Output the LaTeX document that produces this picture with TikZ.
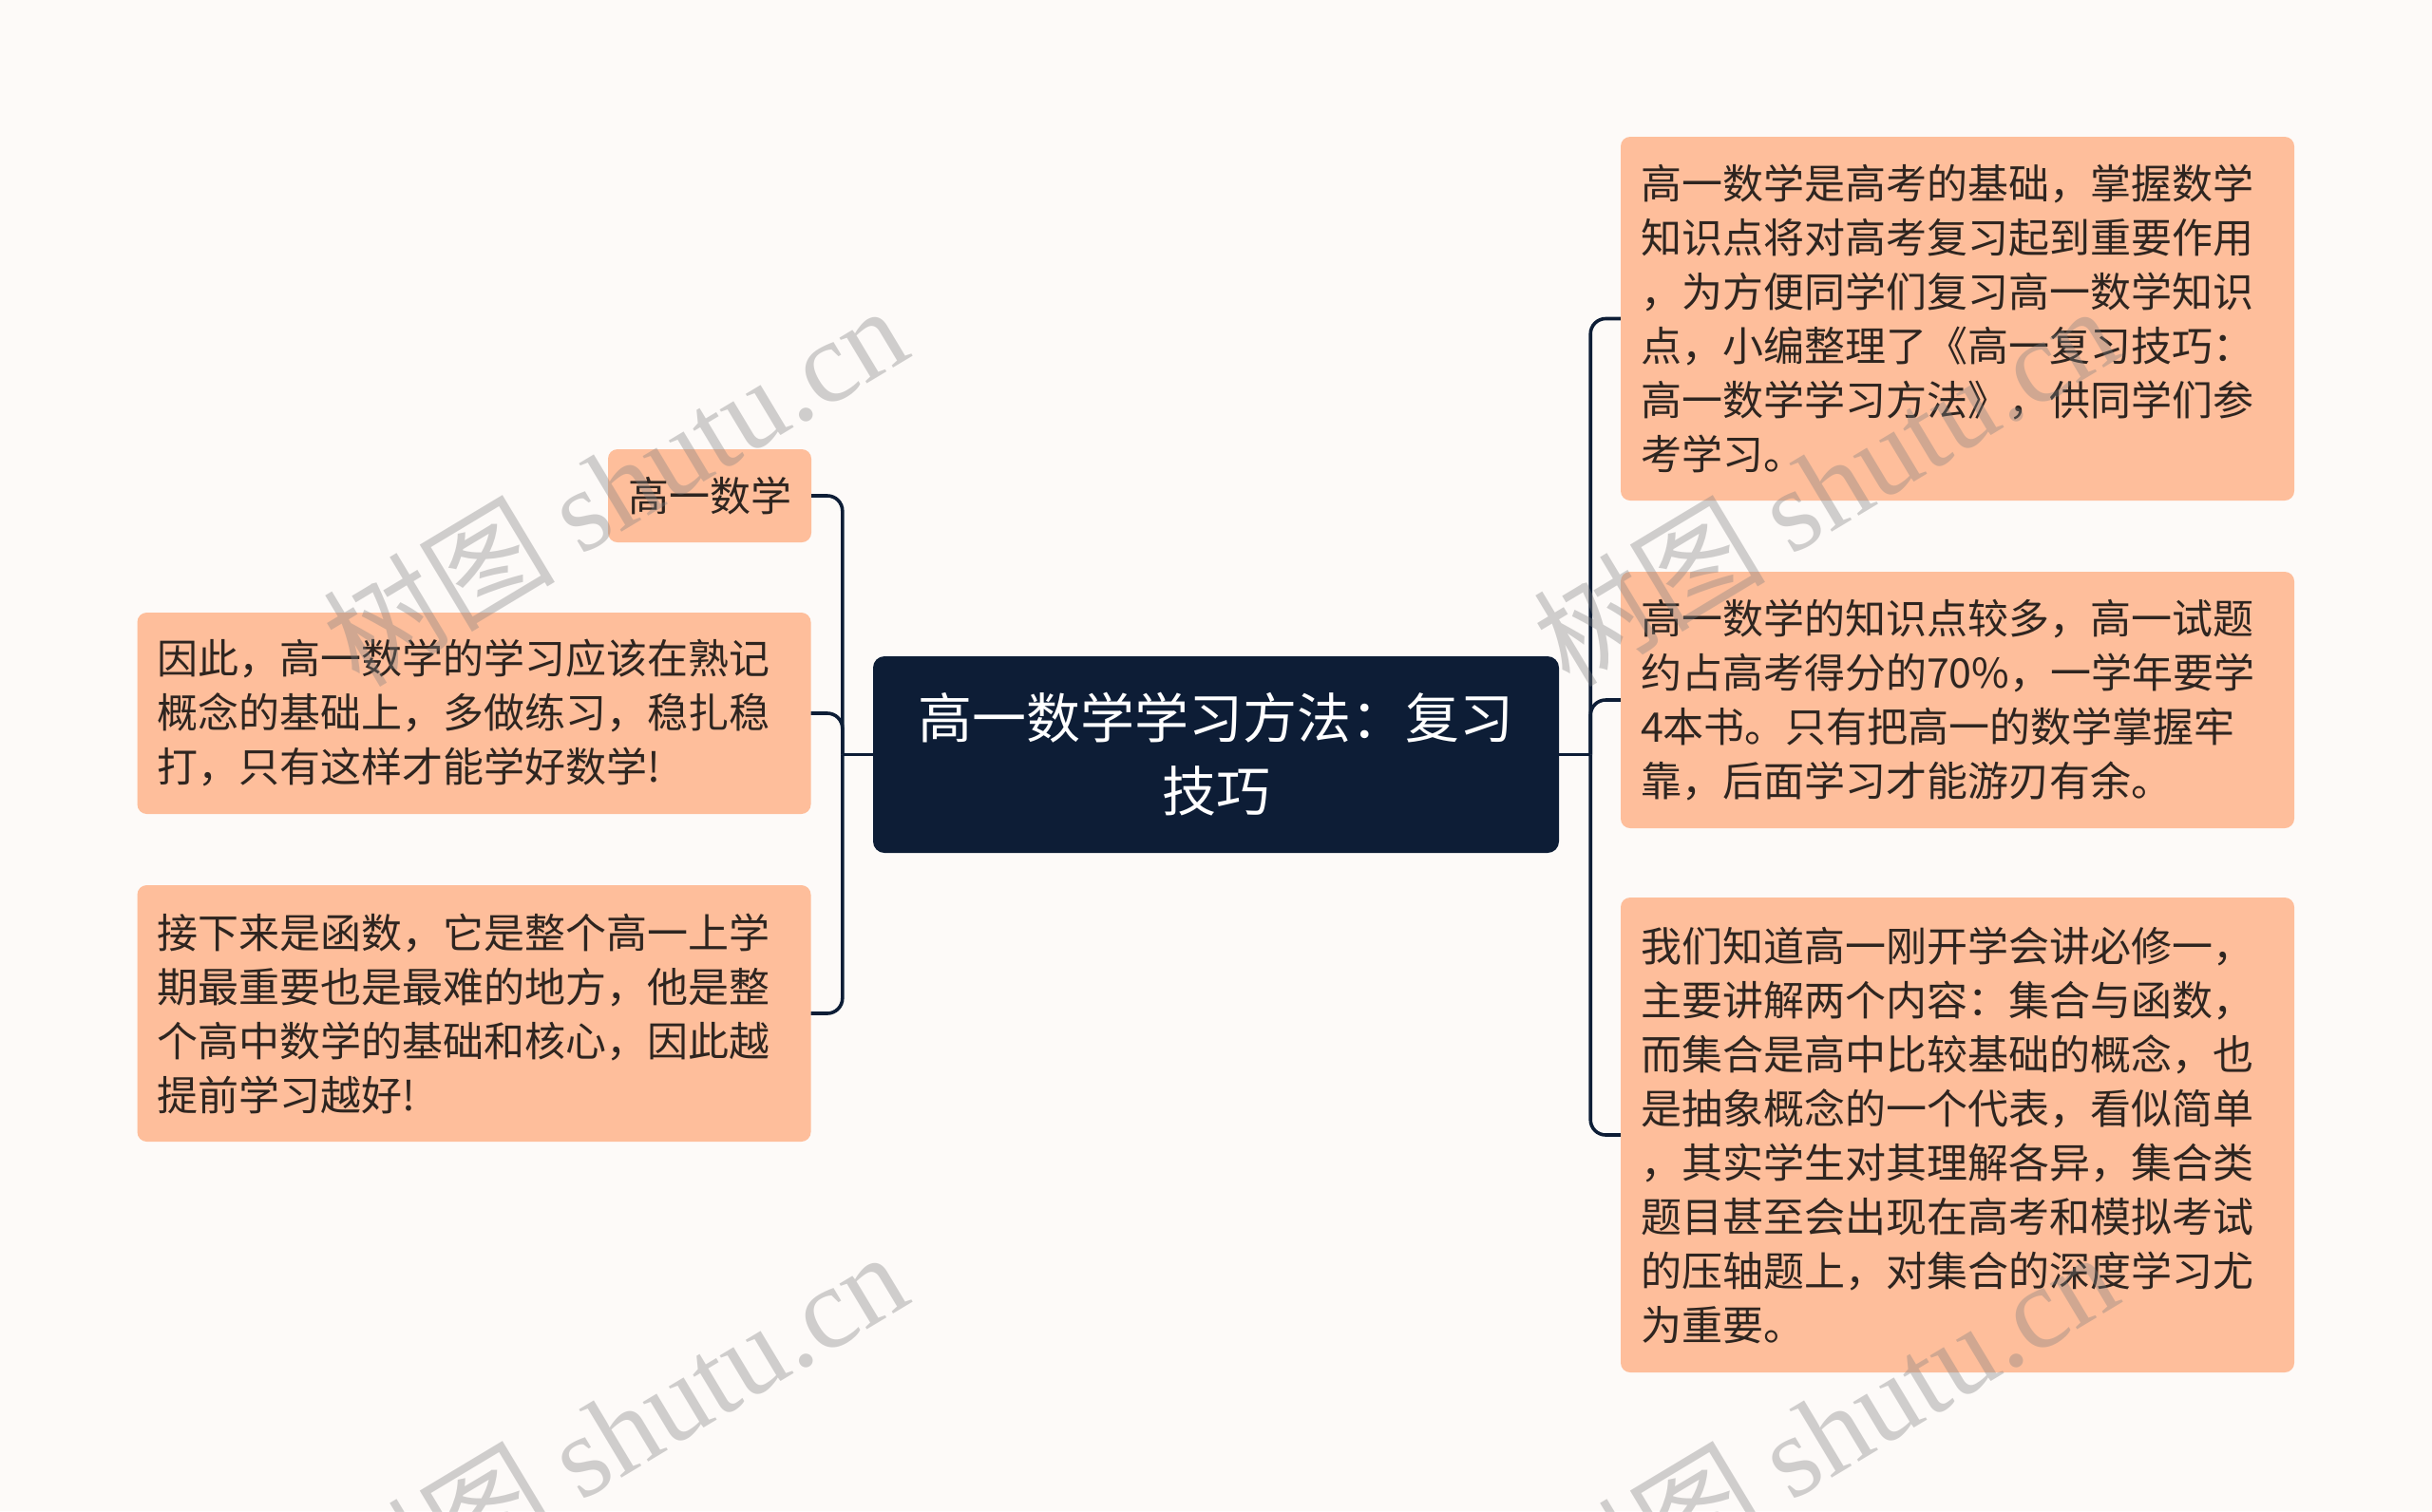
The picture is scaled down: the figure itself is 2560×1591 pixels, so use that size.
\documentclass[tikz,border=0pt]{standalone}
\usepackage{fontspec}
\setmainfont{Noto Sans CJK SC}
\newfontfamily\wmlatin{Liberation Serif}
\newfontfamily\wmcjk{Noto Sans CJK SC}
\definecolor{bgc}{HTML}{FDFAF8}
\definecolor{peach}{HTML}{FEBE9B}
\definecolor{navy}{HTML}{0D1D36}
\definecolor{txt}{HTML}{2E2520}
\definecolor{wmc}{HTML}{808080}
\begin{document}
\begin{tikzpicture}[x=1pt,y=-1pt,
  leaf/.style={fill=peach, rounded corners=10pt, text=txt,
    font=\fontsize{43}{57}\selectfont, align=left,
    inner xsep=21pt, inner ysep=0pt, anchor=center},
  wide/.style={text width=667pt},
  root/.style={fill=navy, rounded corners=12pt, text=white,
    font=\fontsize{57}{77}\selectfont, align=center,
    minimum width=722pt, minimum height=207pt, inner sep=0pt},
  conn/.style={draw=navy, line width=3.6pt},
  wm/.style={text=wmc, opacity=0.36, inner sep=0pt,
    font=\fontsize{122}{122}\selectfont, rotate=31}
]
\fill[bgc] (0,0) rectangle (2560,1591);
\useasboundingbox (0,0) rectangle (2560,1591);

\node[root] (c) at (1280,794.5) {高一数学学习方法：复习\\技巧};

\node[leaf, minimum height=98pt] (L1) at (747,522) {高一数学};
\node[leaf, wide, minimum height=212pt] (L2) at (499,751)
  {因此，高一数学的学习应该在熟记\\概念的基础上，多做练习，稳扎稳\\打，只有这样才能学好数学!};
\node[leaf, wide, minimum height=270pt] (L3) at (499,1067)
  {接下来是函数，它是整个高一上学\\期最重要也是最难的地方，他是整\\个高中数学的基础和核心，因此越\\提前学习越好!};

\node[leaf, wide, minimum height=383pt] (R1) at (2060.5,335.5)
  {高一数学是高考的基础，掌握数学\\知识点将对高考复习起到重要作用\\，为方便同学们复习高一数学知识\\点，小编整理了《高一复习技巧：\\高一数学学习方法》，供同学们参\\考学习。};
\node[leaf, wide, minimum height=270pt] (R2) at (2060.5,737)
  {高一数学的知识点较多，高一试题\\约占高考得分的70\%，一学年要学\\4本书。只有把高一的数学掌握牢\\靠，后面学习才能游刃有余。};
\node[leaf, wide, minimum height=500pt] (R3) at (2060.5,1195)
  {我们知道高一刚开学会讲必修一，\\主要讲解两个内容：集合与函数，\\而集合是高中比较基础的概念，也\\是抽象概念的一个代表，看似简单\\，其实学生对其理解各异，集合类\\题目甚至会出现在高考和模拟考试\\的压轴题上，对集合的深度学习尤\\为重要。};

\coordinate (lb) at ([xshift=-32pt]c.west);
\coordinate (rb) at ([xshift=33pt]c.east);
\draw[conn] (c.west) -- (lb);
\draw[conn] (c.east) -- (rb);
\foreach \n in {L1,L2,L3} \draw[conn, rounded corners=16pt] (lb) |- (\n.east);
\foreach \n in {R1,R2,R3} \draw[conn, rounded corners=16pt] (rb) |- (\n.west);

\begin{scope}[shift={(647,510)}]
\node[wm] (w1) at (0,0) {{\wmcjk 树图} {\wmlatin shutu.cn}};
\end{scope}
\begin{scope}[shift={(1921,510)}]
\node[wm] (w2) at (0,0) {{\wmcjk 树图} {\wmlatin shutu.cn}};
\end{scope}
\begin{scope}[shift={(647,1506)}]
\node[wm] (w3) at (0,0) {{\wmcjk 树图} {\wmlatin shutu.cn}};
\end{scope}
\begin{scope}[shift={(1921,1506)}]
\node[wm] (w4) at (0,0) {{\wmcjk 树图} {\wmlatin shutu.cn}};
\end{scope}
\end{tikzpicture}
\end{document}
